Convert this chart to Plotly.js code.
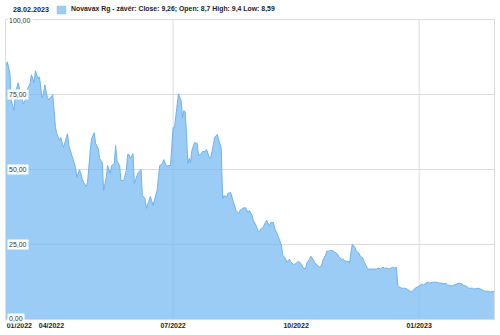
<!DOCTYPE html>
<html>
<head>
<meta charset="utf-8">
<script src="https://cdn.plot.ly/plotly-3.0.1.min.js"></script>
<style>html,body{margin:0;padding:0;background:#fff;}#chart{width:500px;height:335px;}</style>
</head>
<body>
<div id="chart"></div>
<script>
const seriesName = 'Novavax Rg - závěr: Close: 9,26; Open: 8,7 High: 9,4 Low: 8,59';
const lastDateLabel = '28.02.2023';

const dates = [
'2022-02-26','2022-02-27','2022-03-01','2022-03-02','2022-03-04','2022-03-05','2022-03-07','2022-03-08','2022-03-10','2022-03-11',
'2022-03-13','2022-03-14','2022-03-16','2022-03-17','2022-03-19','2022-03-20','2022-03-22','2022-03-23','2022-03-25','2022-03-26',
'2022-03-27','2022-03-29','2022-03-30','2022-04-01','2022-04-02','2022-04-04','2022-04-05','2022-04-07','2022-04-08','2022-04-10',
'2022-04-11','2022-04-13','2022-04-14','2022-04-16','2022-04-17','2022-04-19','2022-04-20','2022-04-22','2022-04-24','2022-04-25',
'2022-04-27','2022-04-28','2022-04-30','2022-05-01','2022-05-03','2022-05-04','2022-05-06','2022-05-07','2022-05-09','2022-05-10',
'2022-05-12','2022-05-13','2022-05-15','2022-05-16','2022-05-18','2022-05-19','2022-05-20','2022-05-22','2022-05-23','2022-05-25',
'2022-05-27','2022-05-28','2022-05-29','2022-05-30','2022-06-01','2022-06-02','2022-06-04','2022-06-05','2022-06-07','2022-06-08',
'2022-06-10','2022-06-11','2022-06-13','2022-06-14','2022-06-16','2022-06-17','2022-06-19','2022-06-20','2022-06-21','2022-06-23',
'2022-06-24','2022-06-26','2022-06-27','2022-06-29','2022-06-30','2022-07-01','2022-07-02','2022-07-04','2022-07-05','2022-07-07',
'2022-07-08','2022-07-09','2022-07-10','2022-07-11','2022-07-12','2022-07-13','2022-07-14','2022-07-15','2022-07-17','2022-07-19',
'2022-07-20','2022-07-22','2022-07-23','2022-07-25','2022-07-26','2022-07-28','2022-07-29','2022-07-31','2022-08-01','2022-08-03',
'2022-08-04','2022-08-06','2022-08-07','2022-08-08','2022-08-10','2022-08-11','2022-08-13','2022-08-14','2022-08-16','2022-08-17',
'2022-08-19','2022-08-20','2022-08-22','2022-08-24','2022-08-26','2022-08-27','2022-08-29','2022-08-30','2022-09-01','2022-09-03',
'2022-09-05','2022-09-06','2022-09-08','2022-09-09','2022-09-11','2022-09-12','2022-09-14','2022-09-15','2022-09-17','2022-09-18',
'2022-09-20','2022-09-21','2022-09-23','2022-09-24','2022-09-26','2022-09-27','2022-09-29','2022-09-30','2022-10-02','2022-10-03',
'2022-10-05','2022-10-06','2022-10-08','2022-10-09','2022-10-11','2022-10-12','2022-10-14','2022-10-15','2022-10-17','2022-10-18',
'2022-10-20','2022-10-21','2022-10-23','2022-10-24','2022-10-26','2022-10-27','2022-10-29','2022-10-30','2022-11-01','2022-11-02',
'2022-11-04','2022-11-05','2022-11-07','2022-11-09','2022-11-10','2022-11-11','2022-11-12','2022-11-14','2022-11-15','2022-11-17',
'2022-11-18','2022-11-20','2022-11-21','2022-11-23','2022-11-24','2022-11-26','2022-11-28','2022-11-30','2022-12-02','2022-12-03',
'2022-12-05','2022-12-06','2022-12-08','2022-12-09','2022-12-11','2022-12-12','2022-12-14','2022-12-15','2022-12-16','2022-12-17',
'2022-12-19','2022-12-21','2022-12-23','2022-12-25','2022-12-26','2022-12-28','2022-12-29','2022-12-31','2023-01-01','2023-01-03',
'2023-01-04','2023-01-06','2023-01-08','2023-01-09','2023-01-11','2023-01-13','2023-01-14','2023-01-16','2023-01-18','2023-01-19',
'2023-01-21','2023-01-22','2023-01-24','2023-01-25','2023-01-27','2023-01-28','2023-01-30','2023-01-31','2023-02-02','2023-02-03',
'2023-02-05','2023-02-07','2023-02-08','2023-02-10','2023-02-11','2023-02-13','2023-02-14','2023-02-16','2023-02-17','2023-02-19',
'2023-02-20','2023-02-22','2023-02-23','2023-02-26'
];

const closes = [
84.7,86,82,73,69.7,75.3,79,77.3,73.7,72,
73.7,77,78.7,81.7,79,83,80.3,81,74,75.3,
78.3,74,73.3,74.3,75,64,62,59.7,60.7,57.3,
59,62,58,54.7,53.7,50.7,47.3,50,47,45.7,
44.3,45.7,56.3,60.3,62.3,58.7,57,53.7,52.3,43,
47.3,51.3,48.7,51.3,52,58,53,51.3,46.3,46.3,
49.7,55,55,53.7,55.3,45.3,48,49,50,41.3,
40.3,37,39.7,41,38,40,43,47.3,51.3,52,
53.3,51,51.3,51.3,56.3,64,64,72,75.3,73,
67.3,69.7,69.3,62,52,53.7,52.3,56.3,59,58.7,
54.7,55.3,56,56,56.7,54,53.7,58,60.7,61.7,
60.3,57,40.3,41.3,40.7,42,42.3,40.7,38,36.3,
35.3,36.3,37,37.3,35.7,36.3,34.7,33,31.3,29,
30.3,30.3,32.3,33,31,32.3,32.3,30.3,28.3,27,
24.7,21.3,20.3,19,20,19,18.3,18.3,19,19.3,
18.3,17.3,16.7,18.7,20,21,19.7,18.7,18,17.3,
17.7,19.7,21.3,22.7,22.7,23,22.7,22.3,21.7,20.7,
20,20,19.3,19.3,18.7,22.3,25,24,22.7,22,
21,20.3,19,17.3,16.7,16.7,16.7,16.7,17,16.7,
17.3,17,17,16.7,17,17.3,17,17.3,11.3,10.7,
10.3,10.3,10,9.3,9,9.7,10.3,10.7,11,11.7,
11.3,12,12.3,12,12.3,12.3,12.3,12,12,11.7,
12,11.3,11.3,11,11.3,11.7,12,12,11.7,11.3,
11,10.3,10.3,10.3,10,10.3,10.3,10,9.7,9.3,
9.3,9.3,9,9.26
];

const xTickVals = ['2022-03-08','2022-04-01','2022-07-01','2022-10-01','2023-01-01'];
const xTickText = ['01/2022','04/2022','07/2022','10/2022','01/2023'];
const xGridDates = ['2022-07-01','2023-01-01'];
const xRange = ['2022-02-26','2023-02-26'];
const yTicks = [0,25,50,75,100];
const yTickLabels = ['0,00','25,00','50,00','75,00','100,00'];

const FONT = 'Arial, "Liberation Sans", sans-serif';
const gridColor = '#dcdcdc';

const trace = {
  x: dates, y: closes, type: 'scatter', mode: 'lines',
  name: seriesName,
  fill: 'tozeroy',
  fillcolor: 'rgba(112,182,242,0.70)',
  line: {color: '#70b2ea', width: 1},
  showlegend: false,
  hoverinfo: 'x+y'
};

const shapes = xGridDates.map(d => ({
  type: 'line', xref: 'x', yref: 'paper', x0: d, x1: d, y0: 0, y1: 1,
  line: {color: gridColor, width: 1}, layer: 'below'
}));
shapes.push({
  type: 'rect', xref: 'paper', yref: 'paper',
  xsizemode: 'pixel', ysizemode: 'pixel', xanchor: 0, yanchor: 1,
  x0: 51, x1: 60, y0: 6, y1: 14,
  fillcolor: '#9dcdf5', line: {color: '#8cc2ef', width: 0.5}
});

const annotations = yTicks.map((v, i) => ({
  xref: 'paper', yref: 'y', x: 0, y: v, xanchor: 'left', yanchor: 'middle',
  xshift: 1, yshift: (v === 0 ? 1 : 0), text: yTickLabels[i], showarrow: false,
  font: {family: FONT, size: 7, color: '#333'},
  bgcolor: '#ffffff', borderpad: 1
}));
annotations.push({
  xref: 'paper', yref: 'paper', x: 0, y: 1, xanchor: 'left', yanchor: 'middle',
  xshift: 5, yshift: 11, text: '<b>' + lastDateLabel + '</b>', showarrow: false,
  font: {family: FONT, size: 7.2, color: '#222'}
});
annotations.push({
  xref: 'paper', yref: 'paper', x: 0, y: 1, xanchor: 'left', yanchor: 'middle',
  xshift: 63, yshift: 11, text: '<b>' + seriesName + '</b>', showarrow: false,
  font: {family: FONT, size: 6.9, color: '#222'}
});

const layout = {
  width: 500, height: 335,
  margin: {l: 6, r: 6, t: 20, b: 16, pad: 0},
  paper_bgcolor: '#fff', plot_bgcolor: '#fff',
  font: {family: FONT, size: 7, color: '#222'},
  showlegend: false,
  xaxis: {
    type: 'date', range: xRange,
    tickmode: 'array', tickvals: xTickVals, ticktext: xTickText,
    showgrid: false, zeroline: false,
    showline: true, mirror: true, linecolor: gridColor, linewidth: 1,
    ticks: '', ticklabelstandoff: 0,
    tickfont: {family: FONT, size: 7, color: '#222', weight: 'bold'}
  },
  yaxis: {
    range: [0, 100], tickmode: 'array', tickvals: yTicks,
    showticklabels: false, showgrid: true, gridcolor: gridColor, gridwidth: 1,
    zeroline: false, showline: true, mirror: true, linecolor: gridColor, ticks: ''
  },
  shapes: shapes,
  annotations: annotations
};

Plotly.newPlot('chart', [trace], layout, {staticPlot: true, displayModeBar: false});
</script>
</body>
</html>
